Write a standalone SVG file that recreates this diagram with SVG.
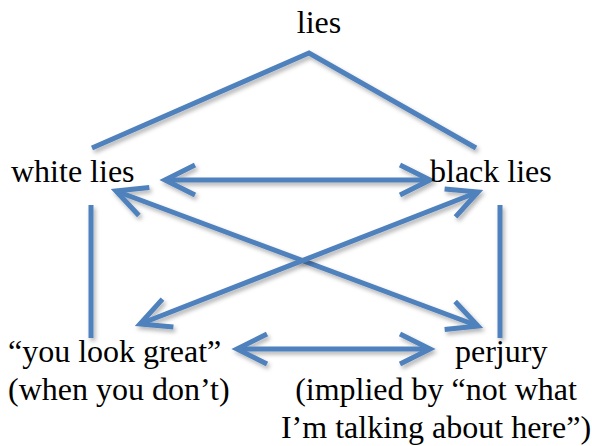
<svg xmlns="http://www.w3.org/2000/svg" width="592" height="446" viewBox="0 0 592 446">
  <defs>
    <style>
      text { font-family: "Liberation Serif", "Times New Roman", serif; font-size: 32px; fill: #000; }
      .edge { fill: none; stroke: #4F81BD; stroke-width: 5; filter: url(#shadow); }
      .arrow { marker-start: url(#chevron); marker-end: url(#chevron); }
    </style>
    <!-- user-space region so flat horizontal/vertical lines keep their shadow -->
    <filter id="shadow" filterUnits="userSpaceOnUse" x="0" y="0" width="592" height="446">
      <feDropShadow dx="2" dy="3" stdDeviation="2" flood-color="#000" flood-opacity="0.3"/>
    </filter>
    <!-- open chevron head, drawn at both ends of the two-way arrows -->
    <marker id="chevron" markerUnits="userSpaceOnUse" orient="auto-start-reverse" refX="0" refY="0" markerWidth="40" markerHeight="40" viewBox="-40 -20 40 40" overflow="visible">
      <path d="M -30 -15 L 0 0 L -30 15" fill="none" stroke="#4F81BD" stroke-width="5" stroke-linejoin="miter"/>
    </marker>
  </defs>

  <g id="connectors">
    <!-- lies splits into white lies and black lies -->
    <polyline class="edge" points="92,148 309,53 476,148"/>
    <!-- each kind down to its example -->
    <line class="edge" x1="91" y1="205" x2="91" y2="338"/>
    <line class="edge" x1="500" y1="205" x2="500" y2="338"/>
    <!-- two-way comparisons -->
    <line class="edge arrow" x1="165" y1="180" x2="430" y2="180"/>
    <line class="edge arrow" x1="237" y1="349" x2="430" y2="349"/>
    <line class="edge arrow" x1="116" y1="191" x2="478" y2="326"/>
    <line class="edge arrow" x1="478" y1="192" x2="140" y2="324"/>
  </g>

  <g id="node-lies">
    <text x="319" y="33" text-anchor="middle">lies</text>
  </g>
  <g id="node-white-lies">
    <text x="11" y="182">white lies</text>
  </g>
  <g id="node-black-lies">
    <text x="430" y="182">black lies</text>
  </g>
  <g id="node-you-look-great">
    <text x="8" y="362">“you look great”</text>
    <text x="8" y="400">(when you don’t)</text>
  </g>
  <g id="node-perjury">
    <text x="455" y="362">perjury</text>
    <text x="436" y="400" text-anchor="middle">(implied by “not what</text>
    <text x="436" y="438" text-anchor="middle">I’m talking about here”)</text>
  </g>
</svg>
